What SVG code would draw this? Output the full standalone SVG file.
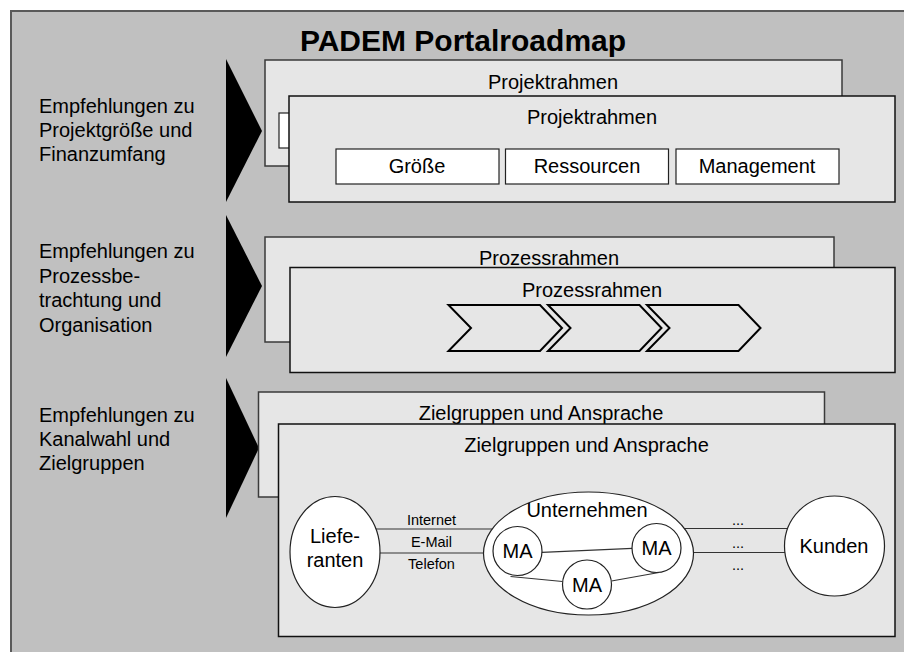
<svg xmlns="http://www.w3.org/2000/svg" width="904" height="652" viewBox="0 0 904 652">
<style>
text{font-family:"Liberation Sans",Arial,sans-serif;font-size:20px;fill:#000}
.c{text-anchor:middle}
.title{font-size:30px;font-weight:bold}
.sm{font-size:14.5px}
.back{fill:#e6e6e6;stroke:#3a3a3a;stroke-width:1.5}
.front{fill:#e6e6e6;stroke:#111;stroke-width:1.5}
.box{fill:#fff;stroke:#222;stroke-width:1.2}
.tri{fill:#000}
.chev{fill:#e6e6e6;stroke:#000;stroke-width:2;stroke-linejoin:miter}
.node{fill:#fff;stroke:#222;stroke-width:1.2}
.ln{stroke:#333;stroke-width:1.2;fill:none}
</style>
<rect x="0" y="0" width="904" height="652" fill="#fff"/>
<rect id="frame" x="11" y="11" width="900" height="650" fill="#c0c0c0" stroke="#5a5a5a" stroke-width="2"/>
<text class="title c" x="463" y="51">PADEM Portalroadmap</text>

<g id="label1">
<text x="39" y="113">Empfehlungen zu</text>
<text x="39" y="137">Projektgröße und</text>
<text x="39" y="161">Finanzumfang</text>
</g>
<g id="label2">
<text x="39" y="258">Empfehlungen zu</text>
<text x="39" y="283">Prozessbe-</text>
<text x="39" y="307">trachtung und</text>
<text x="39" y="332">Organisation</text>
</g>
<g id="label3">
<text x="39" y="422">Empfehlungen zu</text>
<text x="39" y="446">Kanalwahl und</text>
<text x="39" y="470">Zielgruppen</text>
</g>

<g id="arrow1"><polygon class="tri" points="226,59 262,131 226,202"/></g>
<g id="arrow2"><polygon class="tri" points="226,215 262,286 226,357"/></g>
<g id="arrow3"><polygon class="tri" points="226,378 259,448 226,518"/></g>

<g id="projekt-back">
<rect class="back" x="265" y="60" width="577" height="106"/>
<text class="c" x="553" y="89">Projektrahmen</text>
<rect class="box" x="279" y="113" width="30" height="35"/>
</g>
<g id="projekt-front">
<rect class="front" x="289" y="96" width="606" height="106"/>
<text class="c" x="592" y="124">Projektrahmen</text>
<g id="groesse"><rect class="box" x="336" y="149" width="163" height="35"/><text class="c" x="417" y="173">Größe</text></g>
<g id="ressourcen"><rect class="box" x="505.5" y="149" width="163" height="35"/><text class="c" x="587" y="173">Ressourcen</text></g>
<g id="management"><rect class="box" x="676" y="149" width="163" height="35"/><text class="c" x="757" y="173">Management</text></g>
</g>

<g id="prozess-back">
<rect class="back" x="265" y="237" width="569" height="105"/>
<text class="c" x="549" y="265">Prozessrahmen</text>
</g>
<g id="prozess-front">
<rect class="front" x="290" y="267.5" width="605" height="105"/>
<text class="c" x="592" y="297">Prozessrahmen</text>
<polygon id="step1" class="chev" points="448.5,305 540,305 562,328 540,351 448.5,351 471,328"/>
<polygon id="step2" class="chev" points="548,305 639.5,305 661.5,328 639.5,351 548,351 570.5,328"/>
<polygon id="step3" class="chev" points="647,305 738.5,305 760.5,328 738.5,351 647,351 669.5,328"/>
</g>

<g id="ziel-back">
<rect class="back" x="258.5" y="392" width="566" height="105"/>
<text class="c" x="541" y="420">Zielgruppen und Ansprache</text>
</g>
<g id="ziel-front">
<rect class="front" x="278.5" y="424" width="616.5" height="212.5"/>
<text class="c" x="586.5" y="452">Zielgruppen und Ansprache</text>
</g>

<g id="connectors">
<line class="ln" x1="370" y1="529" x2="495" y2="529"/>
<line class="ln" x1="370" y1="553" x2="495" y2="553"/>
<line class="ln" x1="680" y1="528.5" x2="795" y2="528.5"/>
<line class="ln" x1="680" y1="552.5" x2="795" y2="552.5"/>
</g>

<g id="lieferanten">
<ellipse class="node" cx="335" cy="552" rx="45" ry="55.5"/>
<text class="c" x="335" y="543">Liefe-</text>
<text class="c" x="335" y="567">ranten</text>
</g>
<g id="channel-labels">
<text class="c sm" x="431.5" y="525">Internet</text>
<text class="c sm" x="431.5" y="547">E-Mail</text>
<text class="c sm" x="431.5" y="569">Telefon</text>
<text class="c sm" x="738" y="525">...</text>
<text class="c sm" x="738" y="548">...</text>
<text class="c sm" x="738" y="570">...</text>
</g>
<g id="unternehmen">
<ellipse class="node" cx="588.5" cy="553.5" rx="105" ry="61.5"/>
<text class="c" x="587" y="517">Unternehmen</text>
<g id="ma-links">
<line class="ln" x1="542" y1="552.3" x2="632.5" y2="548.3"/>
<line class="ln" x1="510.5" y1="576.5" x2="562.5" y2="581.5"/>
<line class="ln" x1="611.5" y1="581" x2="659" y2="572.5"/>
</g>
<g id="ma1"><circle class="node" cx="517.5" cy="551" r="24.5"/><text class="c" x="517.5" y="558">MA</text></g>
<g id="ma2"><circle class="node" cx="656.5" cy="548" r="24.5"/><text class="c" x="656.5" y="555">MA</text></g>
<g id="ma3"><circle class="node" cx="587" cy="584.5" r="24.5"/><text class="c" x="587" y="591.5">MA</text></g>
</g>
<g id="kunden">
<circle class="node" cx="834.5" cy="546" r="50"/>
<text class="c" x="834" y="553">Kunden</text>
</g>
</svg>
